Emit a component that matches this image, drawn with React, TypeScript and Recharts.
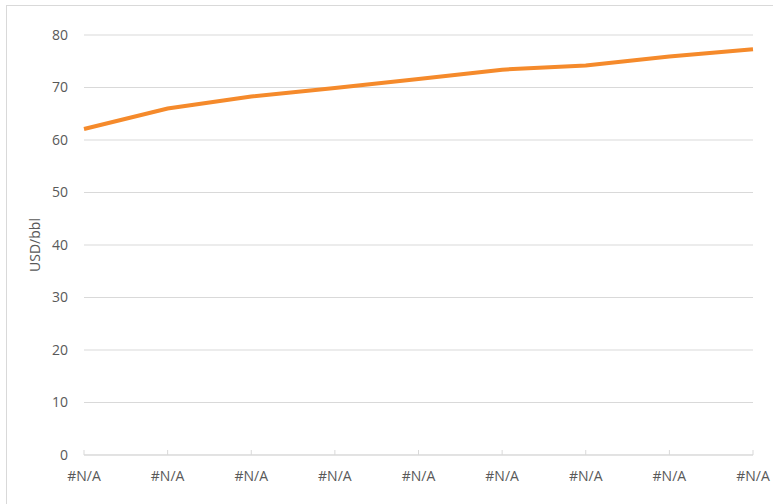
import React from 'react';
import { LineChart, Line, XAxis, YAxis, CartesianGrid } from 'recharts';

// Category labels (source sheet shows #N/A for every period)
const categories = ['#N/A', '#N/A', '#N/A', '#N/A', '#N/A', '#N/A', '#N/A', '#N/A', '#N/A'];
// Price path, USD/bbl
const prices = [62.1, 66.0, 68.3, 69.9, 71.6, 73.4, 74.2, 75.9, 77.3];
const yTicks = [0, 10, 20, 30, 40, 50, 60, 70, 80];

const FONT = '"Open Sans", "Noto Sans", sans-serif';
const TEXT = '#595959';
const GRID = '#d9d9d9';

export default function App() {
  const data = categories.map((c, i) => ({ name: c, price: prices[i] }));

  return (
    <div style={{ position: 'absolute', left: 0, top: 0, width: 773, height: 504, overflow: 'hidden', background: '#fff' }}>
      <div style={{ position: 'absolute', left: 6, top: 5, width: 800, height: 540, border: `1px solid ${GRID}` }} />
      <div style={{ position: 'absolute', left: 0, top: 0 }}>
        <LineChart width={773} height={504} data={data} margin={{ top: 35, right: 20, bottom: 19, left: 0 }}>
          <CartesianGrid vertical={false} stroke={GRID} strokeWidth={1} />
          <XAxis
            dataKey="name"
            height={30}
            stroke={GRID}
            tickSize={-5}
            tickMargin={21}
            tick={{ fill: TEXT, fontSize: 14, fontFamily: FONT }}
            interval={0}
          />
          <YAxis
            width={84}
            domain={[0, 80]}
            ticks={yTicks}
            axisLine={false}
            tickLine={false}
            tickSize={0}
            tickMargin={16}
            tick={{ fill: TEXT, fontSize: 14, fontFamily: FONT }}
            label={{
              content: (props: any) => {
                const vb = props.viewBox;
                const cx = vb.x + 34;
                const cy = vb.y + vb.height / 2;
                return (
                  <text
                    x={cx}
                    y={cy}
                    transform={`rotate(-90 ${cx} ${cy})`}
                    textAnchor="middle"
                    dominantBaseline="central"
                    fill={TEXT}
                    fontSize={14}
                    fontFamily={FONT}
                  >
                    USD/bbl
                  </text>
                );
              },
            }}
          />
          <Line
            type="linear"
            dataKey="price"
            stroke="#f58a2b"
            strokeWidth={4}
            dot={false}
            activeDot={false}
            isAnimationActive={false}
          />
        </LineChart>
      </div>
    </div>
  );
}
